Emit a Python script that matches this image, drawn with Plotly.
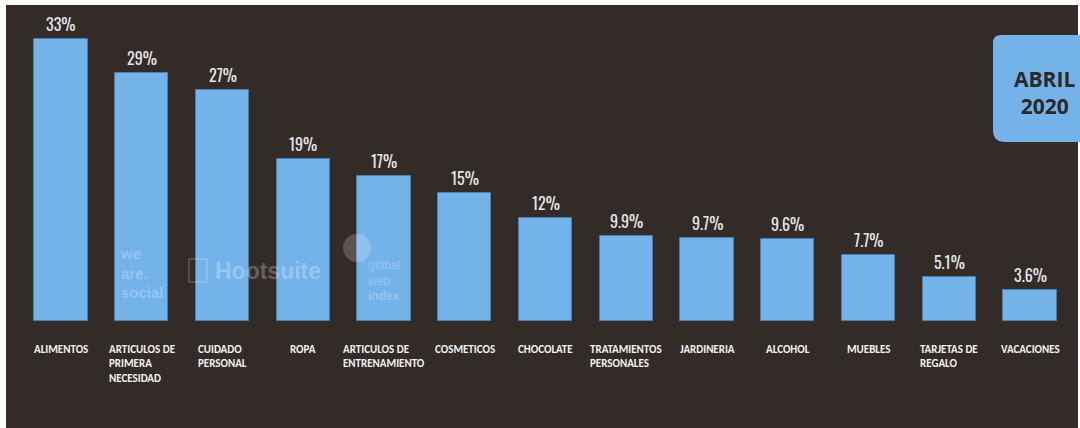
import plotly.graph_objects as go

# Categories (multi-line labels) and shares in percent
categories = [
    "ALIMENTOS",
    "ARTICULOS DE<br>PRIMERA<br>NECESIDAD",
    "CUIDADO<br>PERSONAL",
    "ROPA",
    "ARTICULOS DE<br>ENTRENAMIENTO",
    "COSMETICOS",
    "CHOCOLATE",
    "TRATAMIENTOS<br>PERSONALES",
    "JARDINERIA",
    "ALCOHOL",
    "MUEBLES",
    "TARJETAS DE<br>REGALO",
    "VACACIONES",
]
values = [33, 29, 27, 19, 17, 15, 12, 9.9, 9.7, 9.6, 7.7, 5.1, 3.6]
value_labels = [f"{v:g}%" for v in values]
period_label = "ABRIL<br>2020"

W, H = 1080, 428
BG = "#322b27"
BAR = "#74b2ea"
BAR_EDGE = "#4d7fae"
NARROW = "Oswald, Roboto Condensed, Liberation Sans Narrow, DejaVu Sans Condensed, sans-serif"
LABEL_FONT = "Carlito, Open Sans, Liberation Sans, sans-serif"

x_idx = list(range(len(categories)))

fig = go.Figure()
fig.add_trace(go.Bar(
    x=x_idx,
    y=values,
    width=0.66,
    marker=dict(color=BAR, line=dict(color=BAR_EDGE, width=1)),
    hoverinfo="skip",
))

# value labels above each bar
annotations = []
for i, (v, lab) in enumerate(zip(values, value_labels)):
    annotations.append(dict(
        x=i, y=v, xref="x", yref="y", text=lab, showarrow=False,
        xanchor="center", yanchor="bottom", yshift=1,
        font=dict(family=NARROW, size=16, weight=400, color="#e6e6e6"),
    ))

# category labels below the baseline
for i, c in enumerate(categories):
    annotations.append(dict(
        x=i, y=1 - 341 / H, xref="x", yref="paper", text=f"<b>{c}</b>",
        showarrow=False, xanchor="center", yanchor="top", align="left",
        font=dict(family=LABEL_FONT, size=11, color="#f2f2f2"),
    ))

# period badge text
annotations.append(dict(
    x=1044 / W, y=1 - 92 / H, xref="paper", yref="paper",
    xanchor="center", yanchor="middle",
    text=f"<b>{period_label}</b>", showarrow=False, align="center",
    font=dict(family="Open Sans, Liberation Sans, Arial, sans-serif", size=21, color="#2b2826"),
))

# faint brand watermarks
wm = "rgba(255,255,255,0.26)"
annotations += [
    dict(x=142 / W, y=1 - 273 / H, xref="paper", yref="paper", showarrow=False,
         xanchor="center", yanchor="middle",
         text="<b>we<br>are.<br>social</b>", align="left",
         font=dict(family="Liberation Sans, Arial, sans-serif", size=15, color=wm)),
    dict(x=268 / W, y=1 - 271 / H, xref="paper", yref="paper", showarrow=False,
         xanchor="center", yanchor="middle",
         text="<b>Hootsuite</b>",
         font=dict(family="Liberation Sans, Arial, sans-serif", size=23, color=wm)),
    dict(x=383 / W, y=1 - 280 / H, xref="paper", yref="paper", showarrow=False,
         xanchor="center", yanchor="middle",
         text="global<br>web<br><b>index</b>", align="left",
         font=dict(family="Liberation Sans, Arial, sans-serif", size=12, color=wm)),
]

shapes = [
    # dark panel
    dict(type="rect", xref="paper", yref="paper", x0=6 / W, x1=1078 / W,
         y0=0, y1=1 - 5 / H, fillcolor=BG, line=dict(width=0), layer="below"),
    # badge with rounded left corners
    dict(type="path", xref="paper", yref="paper", layer="below",
         path=(f"M 1.02,{1-35/H} L {1001/W},{1-35/H} Q {993/W},{1-35/H} {993/W},{1-43/H} "
               f"L {993/W},{1-130/H} Q {993/W},{1-142/H} {1005/W},{1-142/H} L 1.02,{1-142/H} Z"),
         fillcolor=BAR, line=dict(width=0)),
    # watermark marks
    dict(type="circle", xref="paper", yref="paper", x0=343 / W, x1=371 / W,
         y0=1 - 262 / H, y1=1 - 234 / H, fillcolor="rgba(255,255,255,0.2)", line=dict(width=0)),
    dict(type="rect", xref="paper", yref="paper", x0=189 / W, x1=207 / W,
         y0=1 - 282 / H, y1=1 - 259 / H, fillcolor="rgba(0,0,0,0)",
         line=dict(color="rgba(255,255,255,0.22)", width=1.5)),
]

px_per_cat = 80.75
x0_cat = -61 / px_per_cat
px_per_pct = 8.55
fig.update_layout(
    width=W, height=H,
    margin=dict(l=0, r=0, t=0, b=0),
    paper_bgcolor="white",
    plot_bgcolor="rgba(0,0,0,0)",
    showlegend=False,
    bargap=0,
    xaxis=dict(range=[x0_cat, x0_cat + W / px_per_cat], domain=[0, 1],
               showgrid=False, zeroline=False, showticklabels=False, ticks=""),
    yaxis=dict(range=[-(H - 321) / px_per_pct, 321 / px_per_pct], domain=[0, 1],
               showgrid=False, zeroline=False, showticklabels=False, ticks=""),
    annotations=annotations,
    shapes=shapes,
)

fig.write_html("out.html")
